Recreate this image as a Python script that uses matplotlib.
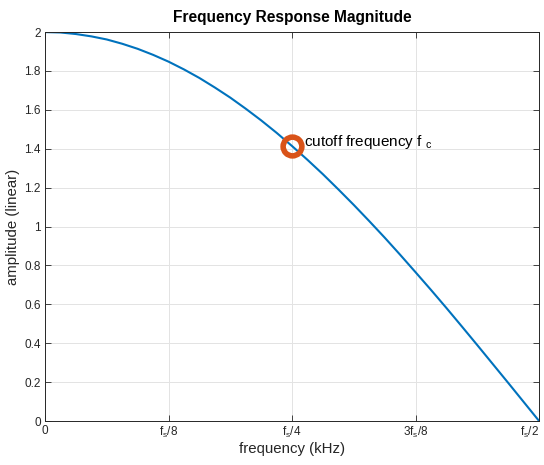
import numpy as np
import matplotlib
matplotlib.use("Agg")
import matplotlib.pyplot as plt

plt.rcParams['font.family'] = ['Liberation Sans', 'DejaVu Sans']
plt.rcParams['mathtext.fontset'] = 'custom'
plt.rcParams['mathtext.rm'] = 'Liberation Sans'
plt.rcParams['mathtext.it'] = 'Liberation Sans'

amplitude = [2.000, 1.998, 1.990, 1.978, 1.962, 1.940, 1.914, 1.883,
             1.848, 1.808, 1.764, 1.715, 1.663, 1.606, 1.546, 1.482,
             1.414, 1.343, 1.269, 1.191, 1.111, 1.028, 0.943, 0.855,
             0.765, 0.674, 0.581, 0.486, 0.390, 0.293, 0.196, 0.098, 0.000]
freq = np.linspace(0, 0.5, len(amplitude))  # fraction of fs

cutoff_freq = 0.25
cutoff_amp = 1.414

xtick_pos = [0, 0.125, 0.25, 0.375, 0.5]
xtick_labels = ['0', r'$\mathrm{f_s/8}$', r'$\mathrm{f_s/4}$',
                r'$\mathrm{3f_s/8}$', r'$\mathrm{f_s/2}$']
ytick_pos = [0, 0.2, 0.4, 0.6, 0.8, 1, 1.2, 1.4, 1.6, 1.8, 2]
ytick_labels = ['0', '0.2', '0.4', '0.6', '0.8', '1', '1.2', '1.4', '1.6', '1.8', '2']

dark = '#262626'

fig = plt.figure(figsize=(5.44, 4.65), dpi=100)
ax = fig.add_axes([0.0827, 0.0946, 0.9083, 0.8364])

ax.plot(freq, amplitude, color='#0072BD', linewidth=1.5)
ax.plot([cutoff_freq], [cutoff_amp], 'o', markerfacecolor='none',
        markeredgecolor='#D95319', markersize=13.5, markeredgewidth=4)
ax.text(cutoff_freq + 0.012, cutoff_amp + 0.02,
        r'cutoff frequency f$\ _{\mathrm{c}}$', fontsize=11, va='center', ha='left')

ax.set_xlim(0, 0.5)
ax.set_ylim(0, 2)
ax.set_xticks(xtick_pos)
ax.set_xticklabels(xtick_labels)
ax.set_yticks(ytick_pos)
ax.set_yticklabels(ytick_labels)
ax.tick_params(direction='in', top=True, right=True, length=4, width=0.6,
               labelsize=8.5, colors=dark, pad=3)
# keep the last label inside the figure, like the reference
ax.get_xticklabels()[-1].set_horizontalalignment('right')
ax.grid(True, color='#e3e3e3', linewidth=0.7)
ax.set_axisbelow(True)
for s in ax.spines.values():
    s.set_color(dark)
    s.set_linewidth(0.7)

ax.set_title('Frequency Response Magnitude', fontsize=11.2, fontweight='bold', pad=7)
ax.set_xlabel('frequency (kHz)', fontsize=10.8, color=dark, labelpad=1)
ax.set_ylabel('amplitude (linear)', fontsize=10.8, color=dark, labelpad=3)

fig.savefig('out.png', dpi=100)
